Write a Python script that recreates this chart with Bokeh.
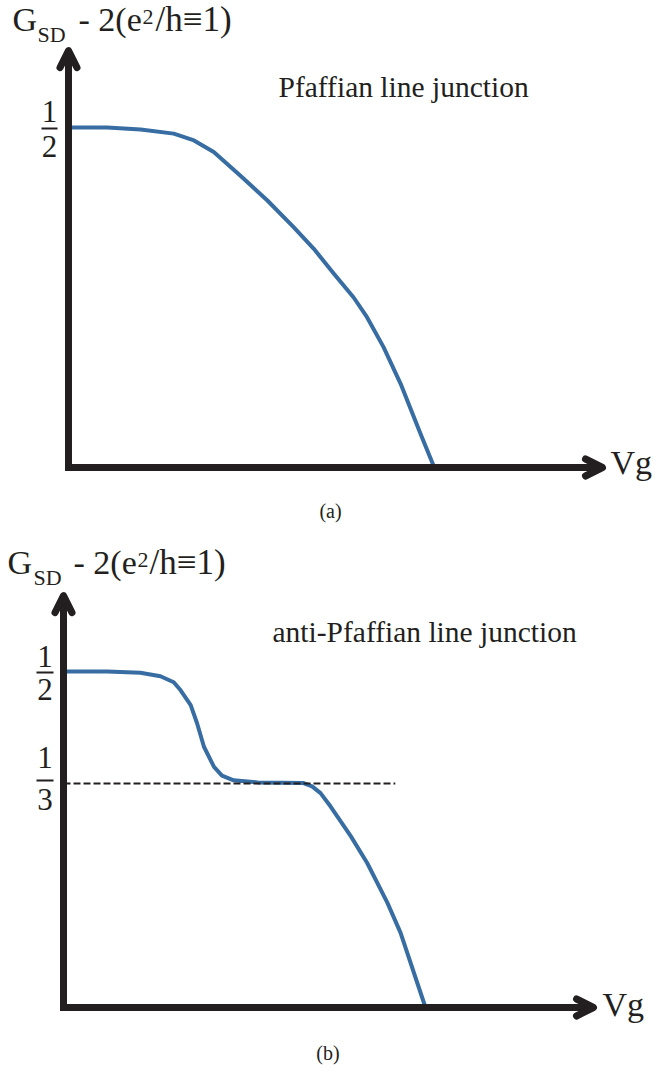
from bokeh.plotting import figure
from bokeh.layouts import column
from bokeh.models import Range1d, Arrow, OpenHead
from bokeh.core.properties import value
from bokeh.embed import file_html
from bokeh.resources import INLINE

# ---------------- data ----------------
# panel (a): Pfaffian line junction
VG_A = [0, 0.72, 1.35, 1.97, 2.35, 2.72, 3.22, 3.72, 4.22, 4.59, 4.97, 5.34, 5.59, 5.90, 6.22, 6.59, 6.85]
G_A = [0.500, 0.500, 0.497, 0.491, 0.481, 0.464, 0.429, 0.393, 0.353, 0.322, 0.285, 0.250, 0.221, 0.177, 0.123, 0.050, 0.0]

# panel (b): anti-Pfaffian line junction
VG_B = [0, 0.82, 1.45, 1.83, 2.08, 2.21, 2.40, 2.52, 2.65, 2.84, 2.99, 3.21, 3.66, 4.53, 4.69, 4.85,
        5.04, 5.42, 5.73, 6.11, 6.36, 6.83]
G_B = [0.500, 0.500, 0.498, 0.493, 0.484, 0.472, 0.450, 0.423, 0.388, 0.358, 0.345, 0.338, 0.335, 0.334,
       0.329, 0.319, 0.299, 0.255, 0.215, 0.156, 0.111, 0.0]

PLATEAU_B = 1 / 3          # dashed reference level
PLATEAU_END_B = 6.26        # dashed line extent in Vg

TICKS_A = [0.5]
TICK_NUM_A = ["1"]
TICK_DEN_A = ["2"]
TICKS_B = [0.5, 1 / 3]
TICK_NUM_B = ["1", "1"]
TICK_DEN_B = ["2", "3"]

VG_MAX = 10.0     # x-axis arrow tip
G_MAX = 0.613     # y-axis arrow tip

TITLE_MAIN = "G"
TITLE_SUB = "SD"
TITLE_MID = "- 2(e"
TITLE_SUP = "2"
TITLE_END = "/h\u22611)"
VG_LABEL = "Vg"
NOTE_A = "Pfaffian line junction"
NOTE_B = "anti-Pfaffian line junction"
CAP_A = "(a)"
CAP_B = "(b)"

# ---------------- style ----------------
W, H = 657, 535
BLUE = "#376da2"
INK = "#231f20"
SERIF = value("Liberation Serif")
BASE_K = 0.37   # correction of rendered alphabetic baseline (fraction of font size)


class Panel:
    def __init__(self, ox, oy, sx, sy, top):
        self.ox, self.oy, self.sx, self.sy, self.top = ox, oy, sx, sy, top

    def X(self, ix):  # page pixel -> data
        return (ix - self.ox) / self.sx

    def Y(self, iy):
        return (self.oy - (iy - self.top)) / self.sy

    def fig(self):
        p = figure(width=W, height=H,
                   x_range=Range1d(-self.ox / self.sx, (W - self.ox) / self.sx),
                   y_range=Range1d((self.oy - H) / self.sy, self.oy / self.sy),
                   output_backend="svg", toolbar_location=None, min_border=0,
                   x_axis_type=None, y_axis_type=None)
        p.xgrid.visible = False
        p.ygrid.visible = False
        p.outline_line_color = None
        p.background_fill_color = "white"
        p.border_fill_color = "white"
        return p


def txt(p, pan, ix, iy, s, fs, align="left"):
    p.text(x=[pan.X(ix)], y=[pan.Y(iy - BASE_K * fs)], text=[s], text_font=SERIF,
           text_font_size=f"{fs}px", text_align=align, text_baseline="alphabetic",
           text_color=INK)


def axes(p):
    p.line(x=[0, 0, VG_MAX], y=[G_MAX, 0, 0], line_width=7, line_color=INK,
           line_join="miter", line_cap="butt")
    for xs, ys, xe, ye in [(0, 0, VG_MAX, 0), (0, 0, 0, G_MAX)]:
        p.add_layout(Arrow(end=OpenHead(size=17, line_width=7, line_color=INK,
                                        line_join="round", line_cap="round"),
                           x_start=xs, y_start=ys, x_end=xe, y_end=ye, line_alpha=0))


def fractions(p, pan, ticks, nums, dens, cx, bx0, bx1, offs):
    for t, n, d, (on, ob, od) in zip(ticks, nums, dens, offs):
        ty = pan.oy - t * pan.sy + pan.top   # page pixel of tick
        txt(p, pan, cx, ty + on, n, 31, "center")
        txt(p, pan, cx, ty + od, d, 31, "center")
        p.segment(x0=[pan.X(bx0)], y0=[pan.Y(ty + ob)], x1=[pan.X(bx1)], y1=[pan.Y(ty + ob)],
                  line_width=2, line_color=INK)


def title(p, pan, xs, base):
    x0, x1, x2, x3, x4 = xs
    txt(p, pan, x0, base, TITLE_MAIN, 34)
    txt(p, pan, x1, base + 10, TITLE_SUB, 22)
    txt(p, pan, x2, base, TITLE_MID, 34)
    txt(p, pan, x3, base - 7, TITLE_SUP, 22)
    txt(p, pan, x4, base, TITLE_END, 35)


# ---------------- panel (a) ----------------
pa = Panel(ox=68, oy=467, sx=53.4, sy=680, top=0)
p1 = pa.fig()
p1.line(VG_A, G_A, line_width=4, line_color=BLUE, line_join="round")
axes(p1)
fractions(p1, pa, TICKS_A, TICK_NUM_A, TICK_DEN_A, 49, 41, 57, [(-5, 1, 30)])
title(p1, pa, (12, 37, 78, 142, 155), 32)
txt(p1, pa, 278, 97, NOTE_A, 29.5)
txt(p1, pa, 610, 475, VG_LABEL, 34)
txt(p1, pa, 330, 518, CAP_A, 20, "center")

# ---------------- panel (b) ----------------
pb = Panel(ox=63, oy=1007 - 535, sx=53.0, sy=672, top=535)
p2 = pb.fig()
p2.line(VG_B, G_B, line_width=4, line_color=BLUE, line_join="round")
p2.line([0, PLATEAU_END_B], [PLATEAU_B, PLATEAU_B], line_width=2, line_color=INK, line_dash="7 3")
axes(p2)
fractions(p2, pb, TICKS_B, TICK_NUM_B, TICK_DEN_B, 44.5, 36, 53, [(-4, 1, 29), (-15, -3, 27)])
title(p2, pb, (7, 33, 73, 137, 149), 575)
txt(p2, pb, 272, 642, NOTE_B, 29.5)
txt(p2, pb, 602, 1017, VG_LABEL, 34)
txt(p2, pb, 327.5, 1060, CAP_B, 20, "center")

layout = column(p1, p2, spacing=0)
open("out.html", "w").write(file_html(layout, INLINE))
